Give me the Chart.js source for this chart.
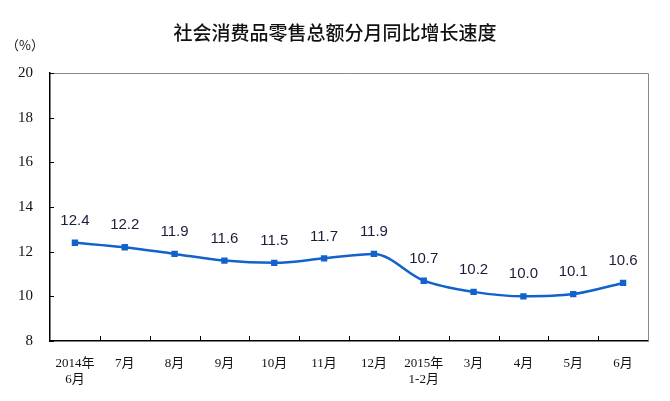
<!DOCTYPE html>
<html>
<head>
<meta charset="utf-8">
<script src="https://cdn.jsdelivr.net/npm/chart.js@4/dist/chart.umd.min.js"></script>
<style>
  html, body { margin: 0; padding: 0; background: #fff; }
  canvas { display: block; }
</style>
</head>
<body>
<canvas id="grafico" width="670" height="401"></canvas>
<script>
// datos del grafico
var categorias = [["2014年", "6月"], "7月", "8月", "9月", "10月", "11月", "12月", ["2015年", "1-2月"], "3月", "4月", "5月", "6月"];
var crecimiento = [12.4, 12.2, 11.9, 11.6, 11.5, 11.7, 11.9, 10.7, 10.2, 10.0, 10.1, 10.6];
var titulo = "社会消费品零售总额分月同比增长速度";
var unidad = "（%）";
var ejeMin = 8;
var ejeMax = 20;
var ejePaso = 2;

var azul = "#1262cc";

// dibuja titulo, bordes, marcas internas y etiquetas de valores
var extras = {
    id: "extras",
    afterDraw: function (chart) {
        var ctx = chart.ctx;
        var area = chart.chartArea;
        var x = chart.scales.x;
        var y = chart.scales.y;
        ctx.save();

        // borde gris arriba y a la derecha
        ctx.strokeStyle = "#8a8a8a";
        ctx.lineWidth = 1;
        ctx.beginPath();
        ctx.moveTo(area.left, area.top + 0.5);
        ctx.lineTo(area.right + 0.5, area.top + 0.5);
        ctx.lineTo(area.right + 0.5, area.bottom);
        ctx.stroke();

        // marcas hacia adentro
        ctx.strokeStyle = "#000";
        ctx.lineWidth = 1;
        ctx.beginPath();
        for (var i = 0; i < y.ticks.length; i++) {
            var py = Math.round(y.getPixelForTick(i)) + 0.5;
            ctx.moveTo(area.left, py);
            ctx.lineTo(area.left + 4, py);
        }
        for (var j = 1; j < categorias.length; j++) {
            var px = Math.round(x.getPixelForValue(j - 0.5)) + 0.5;
            ctx.moveTo(px, area.bottom);
            ctx.lineTo(px, area.bottom - 5);
        }
        ctx.stroke();

        // valores sobre los puntos
        var meta = chart.getDatasetMeta(0);
        ctx.fillStyle = "#1c1c3c";
        ctx.font = "15px 'Liberation Sans', Arial, sans-serif";
        ctx.textAlign = "center";
        ctx.textBaseline = "middle";
        meta.data.forEach(function (p, k) {
            ctx.fillText(crecimiento[k].toFixed(1), p.x, p.y - 22);
        });

        // titulo
        ctx.fillStyle = "#111";
        ctx.font = "500 19px 'Noto Sans CJK SC', sans-serif";
        ctx.fillText(titulo, 335, 33);
        ctx.font = "13px 'Noto Sans CJK SC', sans-serif";
        ctx.fillText(unidad, 25, 45);

        ctx.restore();
    }
};

new Chart(document.getElementById("grafico"), {
    type: "line",
    data: {
        labels: categorias,
        datasets: [{
            data: crecimiento,
            borderColor: azul,
            backgroundColor: azul,
            borderWidth: 2.5,
            cubicInterpolationMode: "monotone",
            pointStyle: "rect",
            pointRadius: 4.5,
            pointBorderWidth: 0,
            pointBackgroundColor: azul
        }]
    },
    options: {
        responsive: false,
        animation: false,
        devicePixelRatio: 1,
        layout: { padding: { top: 73, right: 22, left: 0, bottom: 0 } },
        plugins: {
            legend: { display: false },
            title: { display: false },
            tooltip: { enabled: false }
        },
        scales: {
            x: {
                offset: true,
                grid: { display: false, drawTicks: false },
                border: { display: true, color: "#000", width: 1.5 },
                ticks: {
                    color: "#111",
                    padding: 15,
                    maxRotation: 0,
                    autoSkip: false,
                    font: { family: "'Liberation Serif', 'Noto Sans CJK SC', serif", size: 13 }
                },
                afterFit: function (scale) { scale.height = 60; }
            },
            y: {
                min: ejeMin,
                max: ejeMax,
                grid: { display: false, drawTicks: false },
                border: { display: true, color: "#000", width: 1.5 },
                ticks: {
                    stepSize: ejePaso,
                    color: "#111",
                    padding: 17,
                    font: { family: "'Liberation Serif', serif", size: 15 }
                },
                afterFit: function (scale) { scale.width = 50; }
            }
        }
    },
    plugins: [extras]
});
</script>
</body>
</html>
